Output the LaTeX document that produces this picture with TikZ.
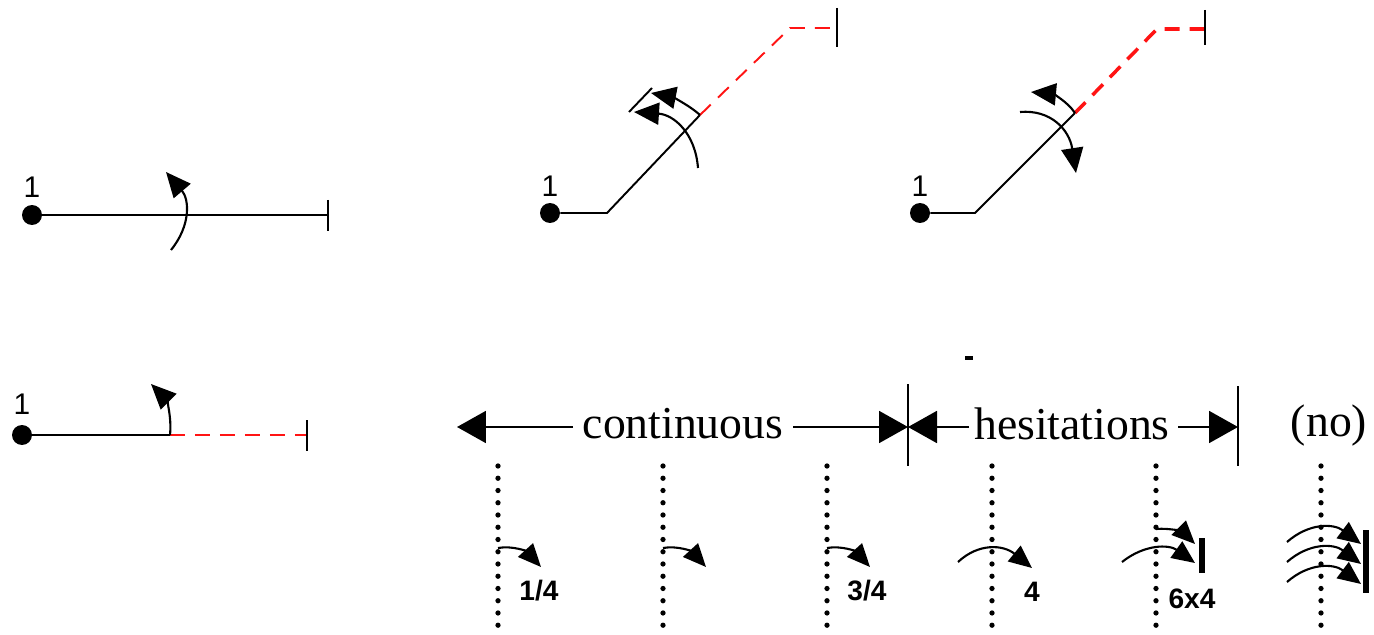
\documentclass[tikz,border=0pt]{standalone}
\usepackage{fontspec}
\setmainfont{Liberation Serif}
\newfontfamily\arialf{Liberation Sans}
\usetikzlibrary{arrows.meta,calc}
\definecolor{lred}{RGB}{255,20,20}
\tikzset{
  seg/.style={line width=1.1pt, black},
  reddash/.style={line width=1.1pt, lred, dash pattern=on 0.3cm off 0.2cm},
  reddashthick/.style={line width=2pt, lred, dash pattern=on 0.3cm off 0.2cm},
  endtick/.style={line width=1.1pt, black},
  pt/.style={circle, fill=black, inner sep=0pt, minimum size=0.4cm},
  numlbl/.style={font=\arialf\fontsize{17}{19}\selectfont, inner sep=0pt},
  turn/.style={line width=1.2pt, -{Triangle[length=0.5cm,width=0.44cm]}},
  sturn/.style={line width=1.2pt, -{Triangle[length=0.46cm,width=0.4cm]}},
  bigarr/.style={line width=1.1pt, -{Triangle[length=0.58cm,width=0.64cm]}},
  dotline/.style={line width=3pt, line cap=round, dash pattern=on 0pt off 0.245cm},
  fraclbl/.style={font=\arialf\bfseries\fontsize{16}{18}\selectfont, inner sep=0pt},
  bigtext/.style={font=\fontsize{26}{30}\selectfont, inner sep=0pt},
  stopbar/.style={line width=3pt},
}
\newcommand\qarc[4]{\draw[#1] (#2) .. controls ($(#2)!0.6667!(#3)$) and ($(#4)!0.6667!(#3)$) .. (#4);}
\begin{document}
\begin{tikzpicture}[x=0.02cm, y=-0.02cm]
\useasboundingbox (0,0) rectangle (1374,635);

% ---------- panel 1 ----------
\node[pt] (p1) at (32,215) {};
\node[numlbl] (l1) at (32,187) {1};
\coordinate (p1e) at (328,215);
\draw[seg] (p1) -- (p1e);
\coordinate (p1t1) at (328,200); \coordinate (p1t2) at (328,231);
\draw[endtick] (p1t1) -- (p1t2);
\coordinate (a1s) at (171,250); \coordinate (a1c) at (201,213); \coordinate (a1e) at (166,172);
\qarc{turn}{a1s}{a1c}{a1e}

% ---------- panel 2 ----------
\node[pt] (p2) at (550,213) {};
\node[numlbl] (l2) at (550,186) {1};
\coordinate (p2a) at (607,213); \coordinate (p2b) at (700,115);
\coordinate (p2c) at (790,28); \coordinate (p2d) at (837,28);
\draw[seg] (p2) -- (p2a) -- (p2b);
\draw[reddash] (p2b) -- (p2c) -- (p2d);
\coordinate (p2t1) at (837,8); \coordinate (p2t2) at (837,47);
\draw[endtick] (p2t1) -- (p2t2);
\coordinate (a2c) at (682,99); \coordinate (a2e) at (651,93);
\qarc{turn}{p2b}{a2c}{a2e}
\coordinate (a3s) at (698,168); \coordinate (a3c) at (694,116); \coordinate (a3e) at (634,112);
\qarc{turn}{a3s}{a3c}{a3e}
\coordinate (k1) at (629,112); \coordinate (k2) at (652,88);
\draw[seg] (k1) -- (k2);

% ---------- panel 3 ----------
\node[pt] (p3) at (920,213) {};
\node[numlbl] (l3) at (920,186) {1};
\coordinate (p3a) at (975,213); \coordinate (p3b) at (1075,113);
\coordinate (p3c) at (1157,29); \coordinate (p3d) at (1205,29);
\draw[seg] (p3) -- (p3a) -- (p3b);
\draw[reddashthick] (p3b) -- (p3c) -- (p3d);
\coordinate (p3t1) at (1205,10); \coordinate (p3t2) at (1205,45);
\draw[endtick] (p3t1) -- (p3t2);
\coordinate (b1c) at (1063,95); \coordinate (b1e) at (1031,92);
\qarc{turn}{p3b}{b1c}{b1e}
\coordinate (b2s) at (1020,112); \coordinate (b2c) at (1066,108); \coordinate (b2e) at (1076,173);
\qarc{turn}{b2s}{b2c}{b2e}

% ---------- panel 4 ----------
\node[pt] (p4) at (22,435) {};
\node[numlbl] (l4) at (22,404) {1};
\coordinate (p4a) at (170,435); \coordinate (p4b) at (307,435);
\draw[seg] (p4) -- (p4a);
\draw[reddash] (p4a) -- (p4b);
\coordinate (p4t1) at (307,420); \coordinate (p4t2) at (307,451);
\draw[endtick] (p4t1) -- (p4t2);
\coordinate (c1c) at (173,406); \coordinate (c1e) at (151,384);
\qarc{turn}{p4a}{c1c}{c1e}

% ---------- scale ----------
\coordinate (mk1) at (965,358); \coordinate (mk2) at (973,358);
\draw[line width=2.5pt] (mk1) -- (mk2);

\coordinate (vl1) at (908,384); \coordinate (vl2) at (908,466);
\coordinate (vr1) at (1238,386); \coordinate (vr2) at (1238,466);
\draw[seg] (vl1) -- (vl2);
\draw[seg] (vr1) -- (vr2);

\node[bigtext] (cont) at (683,424) {continuous};
\node[bigtext] (hes) at (1072,424) {hesitations};
\node[bigtext] (no) at (1329,426) {(no)};
\coordinate (cl) at (457,427); \coordinate (cr) at (908,427);
\coordinate (hr) at (1238,427);
\coordinate (cw) at (573,427); \coordinate (ce) at (793,427);
\coordinate (hw) at (969,427); \coordinate (he) at (1178,427);
\draw[bigarr] (cw) -- (cl);
\draw[bigarr] (ce) -- (cr);
\draw[bigarr] (hw) -- (cr);
\draw[bigarr] (he) -- (hr);

% dotted lines
\foreach \n/\x in {d1/498, d2/663, d3/827, d4/992, d5/1156, d6/1321} {
  \coordinate (\n t) at (\x,466);
  \coordinate (\n b) at (\x,632);
  \draw[dotline] (\n t) -- (\n b);
}

% small turn arrows
\coordinate (s1s) at (498,548); \coordinate (s1c) at (520,544); \coordinate (s1e) at (541,567);
\qarc{sturn}{s1s}{s1c}{s1e}
\coordinate (s2s) at (663,548); \coordinate (s2c) at (685,544); \coordinate (s2e) at (706,567);
\qarc{sturn}{s2s}{s2c}{s2e}
\coordinate (s3s) at (827,548); \coordinate (s3c) at (849,544); \coordinate (s3e) at (870,567);
\qarc{sturn}{s3s}{s3c}{s3e}
\node[fraclbl] (f1) at (539,591) {1/4};
\node[fraclbl] (f3) at (867,591) {3/4};

\coordinate (s4s) at (958,562); \coordinate (s4c) at (989,533); \coordinate (s4e) at (1032,568);
\qarc{sturn}{s4s}{s4c}{s4e}
\node[fraclbl] (f4) at (1032,592) {4};

\coordinate (s5s) at (1156,529); \coordinate (s5c) at (1178,527); \coordinate (s5e) at (1195,544);
\qarc{sturn}{s5s}{s5c}{s5e}
\coordinate (s6s) at (1122,562); \coordinate (s6c) at (1156,535); \coordinate (s6e) at (1195,563);
\qarc{sturn}{s6s}{s6c}{s6e}
\coordinate (bar1a) at (1202,538); \coordinate (bar1b) at (1202,573);
\draw[stopbar] (bar1a) -- (bar1b);
\node[fraclbl] (f6) at (1192,599) {6x4};

\foreach \n/\dy in {r1/0, r2/20, r3/40} {
  \coordinate (\n s) at (1287,542+\dy);
  \coordinate (\n c) at (1320,513+\dy);
  \coordinate (\n e) at (1361,544+\dy);
  \qarc{sturn}{\n s}{\n c}{\n e}
}
\coordinate (bar2a) at (1366,530); \coordinate (bar2b) at (1366,593);
\draw[stopbar] (bar2a) -- (bar2b);
\end{tikzpicture}
\end{document}
